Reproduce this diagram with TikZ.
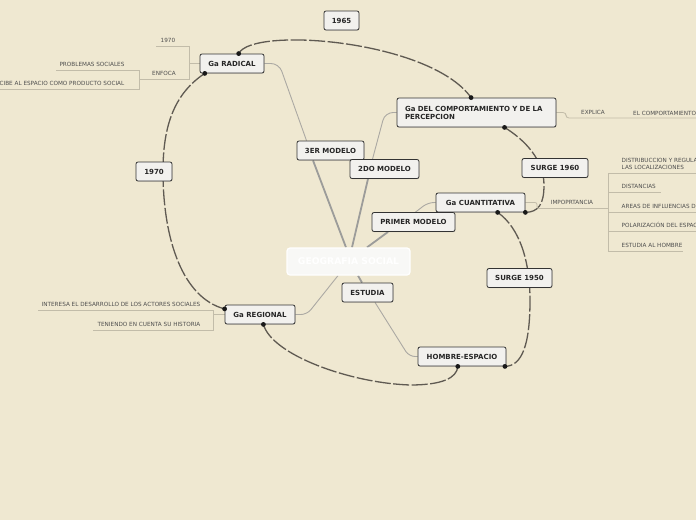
\documentclass[tikz,border=0pt]{standalone}
\usepackage{fontspec}
\setmainfont{DejaVu Sans}
\usetikzlibrary{positioning,arrows.meta,calc,backgrounds,shadows}
\definecolor{paper}{HTML}{EFE8D1}
\definecolor{boxfill}{HTML}{F2F1EE}
\definecolor{boxline}{HTML}{333333}
\definecolor{trunkgray}{HTML}{9C9C9A}
\definecolor{twiggray}{HTML}{ABA9A3}
\definecolor{leafgray}{HTML}{C2BCA9}
\definecolor{linkdark}{HTML}{5F5A52}
\definecolor{leaftext}{HTML}{4E4E4E}
\tikzset{
  box/.style={draw=boxline, line width=0.8pt, rounded corners=2pt, fill=boxfill, inner sep=0pt, minimum height=19pt, text=black!85, font=\fontsize{7}{8}\selectfont\bfseries, drop shadow={shadow xshift=0.4pt, shadow yshift=-0.7pt, opacity=0.3}},
  hub/.style={draw=white, line width=1.2pt, rounded corners=3pt, fill=boxfill!50!white, text=white, inner sep=0pt, minimum width=123pt, minimum height=27pt, font=\fontsize{9.2}{10}\selectfont\bfseries},
  leaf/.style={inner sep=0pt, text=leaftext, font=\fontsize{5.7}{7}\selectfont},
  trunk/.style={trunkgray, line width=1.8pt},
  twig/.style={twiggray, line width=0.9pt},
  leafline/.style={leafgray, line width=0.8pt},
  link/.style={linkdark, line width=1.3pt, dash pattern=on 16pt off 2.5pt}}

\begin{document}
\begin{tikzpicture}[x=1pt, y=-1pt]
\useasboundingbox (0,0) rectangle (696,520);
\node[hub] (gs) at (348.5,261.5) {GEOGRAFIA SOCIAL};
\node[box, minimum width=64pt] (rad) at (232,63.5) {Ga RADICAL};
\node[box, minimum width=159pt, minimum height=29pt, text width=143pt, inner xsep=8pt, align=left] (comp) at (476.5,112.5) {Ga DEL COMPORTAMIENTO Y DE LA\\PERCEPCION};
\node[box, minimum width=89pt] (cuan) at (480.5,202.5) {Ga CUANTITATIVA};
\node[box, minimum width=70pt] (reg) at (260,314.5) {Ga REGIONAL};
\node[box, minimum width=88pt] (hom) at (462,356.5) {HOMBRE-ESPACIO};
\node[box, minimum width=67pt] (m3) at (330.5,150.5) {3ER MODELO};
\node[box, minimum width=69pt] (m2) at (384.5,169) {2DO MODELO};
\node[box, minimum width=83pt] (m1) at (413.5,222) {PRIMER MODELO};
\node[box, minimum width=51pt] (est) at (367.5,292.5) {ESTUDIA};
\node[box, minimum width=35pt] (y65) at (341.5,20.5) {1965};
\node[box, minimum width=36pt] (y70) at (154,171.5) {1970};
\node[box, minimum width=66pt] (s60) at (555,168) {SURGE 1960};
\node[box, minimum width=65pt] (s50) at (519.5,278) {SURGE 1950};

\node[leaf] (l70) at (168,40) {1970};
\node[leaf] (enf) at (164,73) {ENFOCA};
\node[leaf] (prob) at (92,64) {PROBLEMAS SOCIALES};
\node[leaf, anchor=east] (perc) at (124.5,83) {CIBE AL ESPACIO COMO PRODUCTO SOCIAL};
\node[leaf] (expl) at (593,112) {EXPLICA};
\node[leaf, anchor=west] (ecomp) at (633,113) {EL COMPORTAMIENTO};
\node[leaf] (imp) at (572,202) {IMPOPRTANCIA};
\node[leaf, anchor=west, align=left] (distr) at (621.5,163.5) {DISTRIBUCCION Y REGULA\\LAS LOCALIZACIONES};
\node[leaf, anchor=west] (dist) at (621.5,186) {DISTANCIAS};
\node[leaf, anchor=west] (areas) at (621.5,206) {AREAS DE INFLUENCIAS D};
\node[leaf, anchor=west] (polar) at (621.5,225) {POLARIZACIÓN DEL ESPAC};
\node[leaf, anchor=west] (hombre) at (621.5,245) {ESTUDIA AL HOMBRE};
\node[leaf] (inter) at (121,304) {INTERESA EL DESARROLLO DE LOS ACTORES SOCIALES};
\node[leaf] (hist) at (149,324) {TENIENDO EN CUENTA SU HISTORIA};

\begin{pgfonlayer}{background}
\fill[paper] (0,0) rectangle (696,520);
\draw[trunk] ([xshift=-2.5pt]gs.north) -- ([xshift=-17.5pt]m3.south);
\draw[twig, rounded corners=8pt] ([xshift=-24pt]m3.north) -- (279,63.5) -- (rad.east);
\draw[trunk] ([xshift=3.5pt]gs.north) -- ([xshift=-16.5pt]m2.south);
\draw[twig, rounded corners=8pt] ([xshift=-12pt]m2.north) -- (385,112.5) -- (comp.west);
\draw[trunk] ([xshift=18.5pt]gs.north) -- ([xshift=-25.5pt]m1.south);
\draw[twig, rounded corners=6pt] ([xshift=2pt]m1.north) -- (428,202.5) -- (cuan.west);
\draw[trunk] ([xshift=9.5pt]gs.south) -- ([xshift=-5.5pt]est.north);
\draw[twig, rounded corners=6pt] ([xshift=7.5pt]est.south) -- (409,356.5) -- (hom.west);
\draw[twig, rounded corners=6pt] ([xshift=-10.5pt]gs.south) -- (307,314.5) -- (reg.east);

\draw[link] (rad.56) .. controls (252,26) and (430,40) .. (comp.110);
\draw[link] (rad.200) .. controls (172,95) and (163,130) .. (163,171.5) .. controls (163,240) and (183,298) .. (reg.171);
\draw[link] (comp.332) .. controls (525,140) and (544,160) .. (544,185) .. controls (544,205) and (538,212) .. (cuan.south east);
\draw[link] (cuan.330) .. controls (520,228) and (530,262) .. (530,300) .. controls (530,345) and (522,366) .. (hom.347);
\draw[link] (reg.289) .. controls (272,355) and (350,383) .. (410,385) .. controls (442,385) and (457,378) .. (hom.247);

\draw[leafline] (rad.west) -- (189,63.5);
\draw[leafline] (156,46) -- (189,46) -- (189,79) -- (139,79);
\draw[leafline] (56,70) -- (139,70) -- (139,89) -- (0,89);
\draw[leafline, rounded corners=3pt] (comp.east) -- (566,112.5) -- (566,118) -- (696,118);
\draw[leafline, rounded corners=2pt] (cuan.east) -- (537,202.5) -- (537,208.5) -- (608,208.5);
\draw[leafline] (608,173) -- (608,251);
\foreach \y/\e in {173/696, 192/661, 212/696, 231/696, 251/683}
  \draw[leafline] (608,\y) -- (\e,\y);
\draw[leafline] (reg.west) -- (213,314.5);
\draw[leafline] (38,310) -- (213,310) -- (213,330) -- (93,330);
\end{pgfonlayer}

\foreach \p in {rad.56, rad.200, comp.110, comp.332, cuan.south east, cuan.330, hom.347, hom.247, reg.171, reg.289}
  \fill[black!90] (\p) circle (2.4pt);
\end{tikzpicture}
\end{document}
